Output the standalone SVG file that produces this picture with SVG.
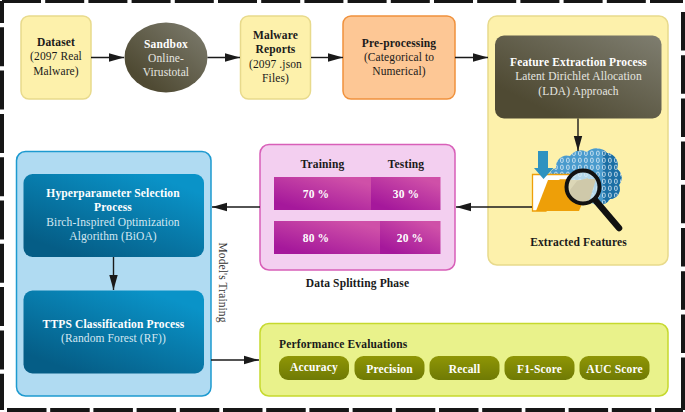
<svg xmlns="http://www.w3.org/2000/svg" width="685" height="412" viewBox="0 0 685 412">
<style>
text{font-family:"Liberation Serif","Times New Roman",serif;font-size:11.5px;text-anchor:middle;letter-spacing:.1px}
.b{font-weight:bold;letter-spacing:.15px}
.w{fill:#fff}
.lw{fill:#e6e6e0}
.lb{fill:#d5e8f2}
.k{fill:#1a1a1a}
.bd{fill:none;stroke:#161616;stroke-width:4}
.con{fill:none;stroke:#1a1a1a;stroke-width:1.4}
.y{fill:#fdf1ab;stroke:#e8da8c;stroke-width:1.5}
.pill{fill:url(#gO)}
</style>
<defs>
<marker id="ah" markerUnits="userSpaceOnUse" markerWidth="16" markerHeight="10" refX="15" refY="5" orient="auto"><path d="M0 .8L15 5L0 9.2Z" fill="#1a1a1a"/></marker>
<linearGradient id="gD" x1="0" y1="1" x2="1" y2="0"><stop offset=".2" stop-color="#4f4a33"/><stop offset="1" stop-color="#7f7e70"/></linearGradient>
<linearGradient id="gB" x1=".1" y1="1" x2=".9" y2="0"><stop offset=".1" stop-color="#055d86"/><stop offset=".9" stop-color="#0a93c8"/></linearGradient>
<linearGradient id="gP" x1=".1" y1="1" x2=".9" y2="0"><stop offset=".1" stop-color="#a5189b"/><stop offset=".9" stop-color="#cf50a8"/></linearGradient>
<linearGradient id="gO" x1="0" y1="1" x2="0" y2="0"><stop offset="0" stop-color="#6f7a05"/><stop offset="1" stop-color="#8f9605"/></linearGradient>
<pattern id="bits" width="6" height="7" patternUnits="userSpaceOnUse" x="553" y="150"><rect x="1.6" y="1.2" width="2.6" height="4.2" rx="1" fill="none" stroke="#e4f1f8" stroke-width=".8"/></pattern>
<clipPath id="cl"><path d="M553 184a9 9 0 0 1 3-16a11 11 0 0 1 14-12a13 13 0 0 1 17-4a14 14 0 0 1 20 1a12 12 0 0 1 10 16a11 11 0 0 1 2 16a10 10 0 0 1-9 14a13 13 0 0 1-22 0H570a12 12 0 0 1-17-15Z"/></clipPath>
</defs>
<g id="frame">
<path class="bd" d="M2 1H683" stroke-dasharray="39 4.2"/>
<path class="bd" d="M2 1V410" stroke-dasharray="39 4.3" stroke-dashoffset="17"/>
<path class="bd" d="M683 12V400" stroke-dasharray="38.5 4.7"/>
<path class="bd" d="M683 396V410"/>
<path class="bd" d="M7 410H683" stroke-dasharray="39.5 3.7"/>
</g>
<g id="dataset"><rect class="y" x="21" y="16" width="70" height="83" rx="8"/>
<text class="b k" x="56" y="46">Dataset</text><text class="k" x="56" y="60">(2097 Real</text><text class="k" x="56" y="75">Malware)</text></g>
<g id="sandbox"><ellipse cx="166" cy="57.5" rx="41.5" ry="35" fill="url(#gD)"/>
<text class="b w" x="166" y="48">Sandbox</text><text class="lw" x="166" y="62">Online-</text><text class="lw" x="166" y="76">Virustotal</text></g>
<g id="reports"><rect class="y" x="240.5" y="16" width="70" height="83" rx="8"/>
<text class="b k" x="275.500" y="39">Malware</text><text class="b k" x="275.500" y="53">Reports</text><text class="k" x="275.500" y="68">(2097 .json</text><text class="k" x="275.500" y="82">Files)</text></g>
<g id="preprocessing"><rect x="343" y="16" width="112" height="83" rx="8" fill="#fdc795" stroke="#f0913c" stroke-width="1.5"/>
<text class="b k" x="399" y="47">Pre-processing</text><text class="k" x="399" y="61">(Categorical to</text><text class="k" x="399" y="75">Numerical)</text></g>
<g id="feature-panel"><rect class="y" x="488" y="16" width="180" height="249" rx="9"/></g>
<g id="feature-extraction"><rect x="495" y="35.500" width="166.500" height="83" rx="9" fill="url(#gD)"/>
<text class="b w" x="578.500" y="66">Feature Extraction Process</text><text class="lw" x="578.500" y="80">Latent Dirichlet Allocation</text><text class="lw" x="578.500" y="95">(LDA) Approach</text></g>
<g id="extracted-features">
<path d="M553 184a9 9 0 0 1 3-16a11 11 0 0 1 14-12a13 13 0 0 1 17-4a14 14 0 0 1 20 1a12 12 0 0 1 10 16a11 11 0 0 1 2 16a10 10 0 0 1-9 14a13 13 0 0 1-22 0H570a12 12 0 0 1-17-15Z" fill="#4a9bcd"/>
<rect x="603" y="148" width="20" height="56" fill="#1c6fa5" clip-path="url(#cl)"/>
<rect x="550" y="148" width="74" height="56" fill="url(#bits)" clip-path="url(#cl)"/>
<path d="M532.500 211V174.500H570V180H560L546 211Z" fill="#fff" stroke="#ee9f08" stroke-width="1.300"/>
<path d="M536 211L548 180H592L579 211Z" fill="#ee9f08"/>
<path d="M538 151H548V168H553.500L543.500 179L534 168H538Z" fill="#2f93c0"/>
<path d="M596 201L619 228" stroke="#111" stroke-width="6.500" stroke-linecap="round"/>
<circle cx="583" cy="187" r="16.500" fill="#d5e9f1" fill-opacity=".75"/>
<path d="M577 181L588 178L588 179L596 179L590 199L585 203H575Q570 196 570 190Z" fill="#cfc9aa"/>
<circle cx="583" cy="187" r="16.500" fill="none" stroke="#111" stroke-width="4"/>
<text class="b k" x="578.500" y="246">Extracted Features</text></g>
<g id="data-splitting"><rect x="260" y="144.500" width="195" height="125.500" rx="9" fill="#f3cff0" stroke="#d85fb8" stroke-width="1.500"/>
<text class="b k" x="322.500" y="168">Training</text><text class="b k" x="406" y="168">Testing</text>
<rect x="274" y="177" width="97" height="33" fill="url(#gP)"/><rect x="371" y="177" width="69.500" height="33" fill="url(#gP)"/>
<rect x="274" y="221" width="106" height="33" fill="url(#gP)"/><rect x="380" y="221" width="60.500" height="33" fill="url(#gP)"/>
<text class="b w" x="316" y="198">70 %</text><text class="b w" x="406" y="198">30 %</text>
<text class="b w" x="316" y="242">80 %</text><text class="b w" x="410" y="242">20 %</text>
<text class="b k" x="357.500" y="287">Data Splitting Phase</text></g>
<g id="training-panel"><rect x="16.500" y="151.500" width="194.500" height="244.500" rx="9" fill="#b0dbf2" stroke="#1d9ad0" stroke-width="1.500"/>
<text class="k" transform="translate(219 282.500) rotate(90)" x="0" y="0" style="fill:#333">Model's Training</text></g>
<g id="hyperparameter"><rect x="23.500" y="174" width="180.500" height="83" rx="9" fill="url(#gB)"/>
<text class="b w" x="113" y="197">Hyperparameter Selection</text><text class="b w" x="113" y="211">Process</text><text class="lb" x="113" y="226">Birch-Inspired Optimization</text><text class="lb" x="113" y="240">Algorithm (BiOA)</text></g>
<g id="ttps"><rect x="23.500" y="290.500" width="180.500" height="83" rx="9" fill="url(#gB)"/>
<text class="b w" x="113.500" y="328">TTPS Classification Process</text><text class="lb" x="113.500" y="342">(Random Forest (RF))</text></g>
<g id="performance"><rect x="260" y="323.500" width="408" height="72.500" rx="9" fill="#e9f28b" stroke="#c6d92e" stroke-width="1.500"/>
<text class="b k" x="279" y="348" style="text-anchor:start">Performance Evaluations</text>
<rect class="pill" x="279" y="356" width="70" height="24" rx="9"/><rect class="pill" x="354.500" y="356" width="70" height="24" rx="9"/><rect class="pill" x="429.500" y="356" width="70" height="24" rx="9"/><rect class="pill" x="504.500" y="356" width="70" height="24" rx="9"/><rect class="pill" x="579.500" y="356" width="70" height="24" rx="9"/>
<text class="b w" x="314" y="371">Accuracy</text><text class="b w" x="389.500" y="373">Precision</text><text class="b w" x="464.500" y="373">Recall</text><text class="b w" x="539.500" y="373">F1-Score</text><text class="b w" x="614.500" y="373">AUC Score</text></g>
<g id="connectors">
<path class="con" marker-end="url(#ah)" d="M91 57.500H124"/>
<path class="con" marker-end="url(#ah)" d="M207.500 57.500H240"/>
<path class="con" marker-end="url(#ah)" d="M311 57.500H343"/>
<path class="con" marker-end="url(#ah)" d="M455 57.500H488"/>
<path class="con" marker-end="url(#ah)" d="M578 118.500V151"/>
<path class="con" marker-end="url(#ah)" d="M532 207H456"/>
<path class="con" marker-end="url(#ah)" d="M260 207H212"/>
<path class="con" marker-end="url(#ah)" d="M113.500 257V290"/>
<path class="con" marker-end="url(#ah)" d="M211 360H259"/>
</g>
</svg>
